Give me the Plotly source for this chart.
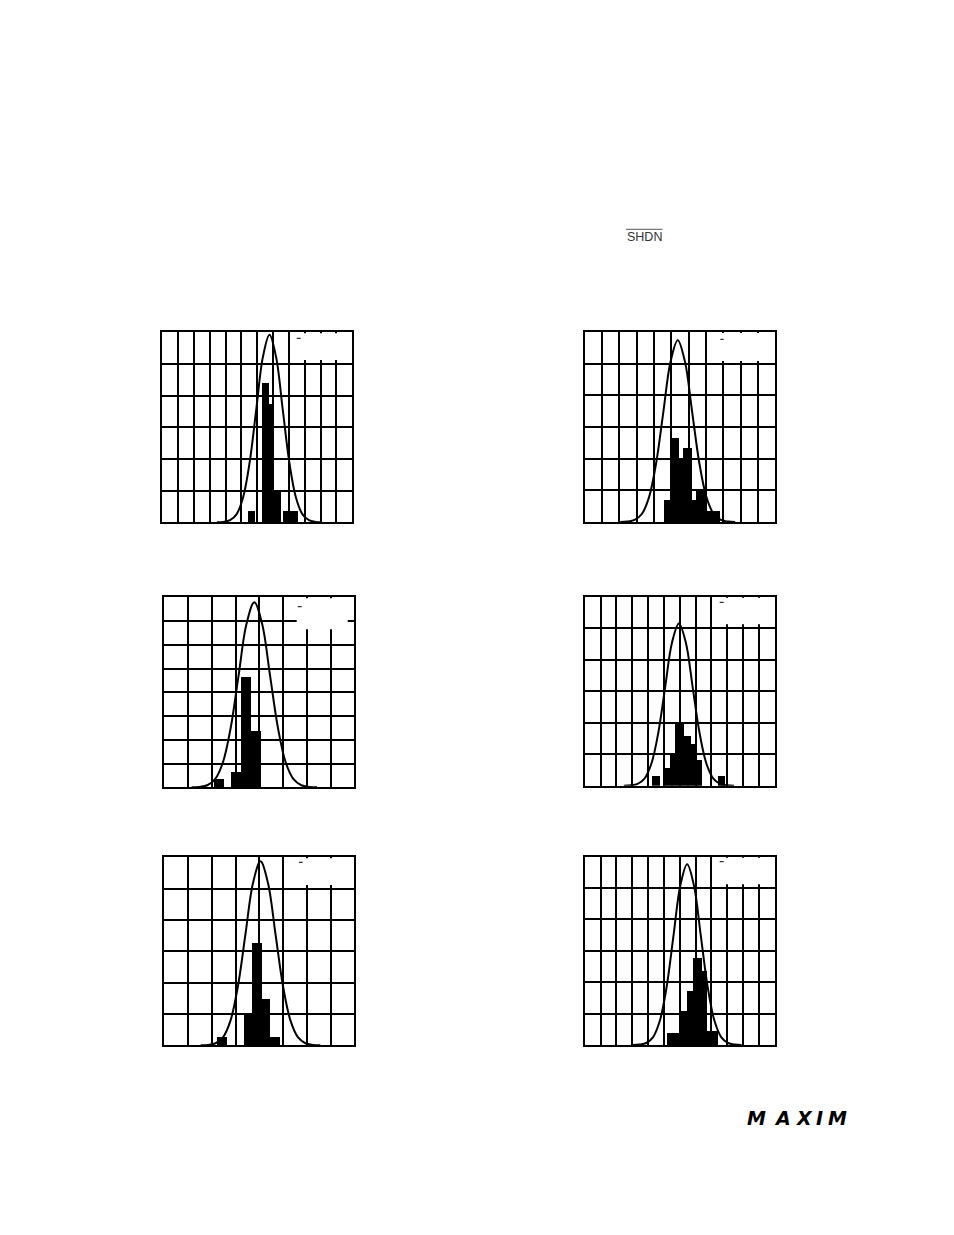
import plotly.graph_objects as go

W, H = 954, 1235
OFF = 8  # default page margin of the browser body

# ---------------- data (grid units on x, percent on y) ----------------
p1_bar_left = [5.46, 6.31, 6.73, 7.08, 7.67]
p1_bar_right = [5.88, 6.73, 7.08, 7.53, 8.56]
p1_bar_height = [3.6, 43.9, 37.4, 10.2, 3.6]
p1_curve_x = [3.45, 3.865, 4.28, 4.695, 5.11, 5.525, 5.94, 6.355, 6.77, 7.185, 7.60, 8.015, 8.43, 8.845, 9.26, 9.675, 10.09]
p1_curve_y = [0.02, 0.13, 0.66, 2.60, 8.01, 19.22, 35.90, 52.24, 59.2, 52.24, 35.90, 19.22, 8.01, 2.60, 0.66, 0.13, 0.02]

p2_bar_left = [4.56, 4.93, 5.41, 5.68, 6.18, 6.43, 6.92]
p2_bar_right = [4.93, 5.41, 5.68, 6.18, 6.43, 6.92, 7.78]
p2_bar_height = [7.0, 26.6, 19.7, 23.5, 6.8, 9.7, 3.5]
p2_curve_x = [2.05, 2.465, 2.88, 3.295, 3.71, 4.125, 4.54, 4.955, 5.37, 5.785, 6.20, 6.615, 7.03, 7.445, 7.86, 8.275, 8.69]
p2_curve_y = [0.02, 0.13, 0.64, 2.52, 7.77, 18.64, 34.81, 50.66, 57.4, 50.66, 34.81, 18.64, 7.77, 2.52, 0.64, 0.13, 0.02]

p3_bar_left = [2.09, 2.84, 3.25, 3.66]
p3_bar_right = [2.53, 3.25, 3.66, 4.08]
p3_bar_height = [3.5, 6.3, 46.2, 23.7]
p3_curve_x = [1.15, 1.48, 1.81, 2.14, 2.47, 2.80, 3.13, 3.46, 3.79, 4.12, 4.45, 4.78, 5.11, 5.44, 5.77, 6.10, 6.43]
p3_curve_y = [0.02, 0.17, 0.86, 3.42, 10.54, 25.29, 47.25, 68.75, 77.9, 68.75, 47.25, 25.29, 10.54, 3.42, 0.86, 0.17, 0.02]

p4_bar_left = [4.26, 5.00, 5.36, 5.69, 6.26, 6.68, 7.02, 8.37]
p4_bar_right = [4.75, 5.36, 5.69, 6.26, 6.68, 7.02, 7.42, 8.85]
p4_bar_height = [3.2, 5.7, 10.0, 19.8, 15.8, 13.2, 8.1, 3.2]
p4_curve_x = [2.47, 2.905, 3.34, 3.775, 4.21, 4.645, 5.08, 5.515, 5.95, 6.385, 6.82, 7.255, 7.69, 8.125, 8.56, 8.995, 9.43]
p4_curve_y = [0.02, 0.11, 0.57, 2.26, 6.97, 16.72, 31.23, 45.45, 51.5, 45.45, 31.23, 16.72, 6.97, 2.26, 0.57, 0.11, 0.02]

p5_bar_left = [2.22, 3.36, 3.70, 4.12, 4.48]
p5_bar_right = [2.66, 3.70, 4.12, 4.48, 4.89]
p5_bar_height = [2.4, 10.0, 32.4, 14.7, 2.7]
p5_curve_x = [1.53, 1.845, 2.16, 2.475, 2.79, 3.105, 3.42, 3.735, 4.05, 4.365, 4.68, 4.995, 5.31, 5.625, 5.94, 6.255, 6.57]
p5_curve_y = [0.02, 0.13, 0.65, 2.58, 7.94, 19.06, 35.60, 51.80, 58.7, 51.80, 35.60, 19.06, 7.94, 2.58, 0.65, 0.13, 0.02]

p6_bar_left = [5.17, 5.95, 6.47, 6.85, 7.36, 7.69]
p6_bar_right = [5.95, 6.47, 6.85, 7.36, 7.69, 8.41]
p6_bar_height = [4.0, 11.0, 17.3, 27.8, 23.6, 4.4]
p6_curve_x = [3.03, 3.46, 3.89, 4.32, 4.75, 5.18, 5.61, 6.04, 6.47, 6.90, 7.33, 7.76, 8.19, 8.62, 9.05, 9.48, 9.91]
p6_curve_y = [0.02, 0.13, 0.64, 2.53, 7.79, 18.70, 34.93, 50.83, 57.6, 50.83, 34.93, 18.70, 7.79, 2.53, 0.64, 0.13, 0.02]

grid_cols = [12, 11, 8, 12, 8, 12]
y_max = [60, 60, 80, 60, 60, 60]

logo_letters = ["M", "A", "X", "I", "M"]
# ---------------------------------------------------------------------

panels = [
    (p1_bar_left, p1_bar_right, p1_bar_height, p1_curve_x, p1_curve_y),
    (p2_bar_left, p2_bar_right, p2_bar_height, p2_curve_x, p2_curve_y),
    (p3_bar_left, p3_bar_right, p3_bar_height, p3_curve_x, p3_curve_y),
    (p4_bar_left, p4_bar_right, p4_bar_height, p4_curve_x, p4_curve_y),
    (p5_bar_left, p5_bar_right, p5_bar_height, p5_curve_x, p5_curve_y),
    (p6_bar_left, p6_bar_right, p6_bar_height, p6_curve_x, p6_curve_y),
]

# panel boxes in page pixels: left, right, top, bottom
boxes = [
    (162.3, 352.3, 332.3, 522.3),
    (584.7, 775.3, 332.0, 522.0),
    (164.3, 354.3, 597.3, 787.3),
    (584.7, 774.7, 596.7, 785.7),
    (164.3, 354.3, 857.3, 1045.3),
    (584.7, 774.7, 856.7, 1045.0),
]
# white legend patches: left, right, top, bottom (px)
patches = [
    (295.0, 340.0, 333.3, 360.0),
    (719.7, 762.0, 333.0, 361.0),
    (296.7, 347.7, 598.3, 629.3),
    (719.7, 762.0, 597.7, 624.3),
    (298.3, 340.0, 858.3, 885.0),
    (719.7, 762.0, 857.7, 884.3),
]
dashes = [
    (296.7, 300.7, 338.3),
    (720.3, 723.7, 339.3),
    (297.7, 301.7, 606.7),
    (719.7, 723.7, 602.3),
    (299.0, 302.7, 862.3),
    (719.7, 723.7, 861.7),
]


def px_x(v):
    return (v - OFF) / W


def px_y(v):
    return 1 - (v - OFF) / H


fig = go.Figure()
layout = dict(
    width=W, height=H, autosize=False,
    margin=dict(l=0, r=0, t=0, b=0),
    paper_bgcolor="white", plot_bgcolor="white",
    showlegend=False, bargap=0,
    shapes=[], annotations=[],
)

for i, (bl, br, bh, cx, cy) in enumerate(panels):
    n = i + 1
    xa = "x" if n == 1 else f"x{n}"
    ya = "y" if n == 1 else f"y{n}"
    centers = [(a + b) / 2 for a, b in zip(bl, br)]
    widths = [b - a for a, b in zip(bl, br)]
    fig.add_trace(go.Bar(x=centers, y=bh, width=widths, xaxis=xa, yaxis=ya,
                         marker=dict(color="black", line=dict(width=0))))
    fig.add_trace(go.Scatter(x=cx, y=cy, xaxis=xa, yaxis=ya, mode="lines",
                             line=dict(color="black", width=2, shape="spline", smoothing=1.0)))
    L, R, T, B = boxes[i]
    axis_common = dict(showline=True, mirror=True, linewidth=2, linecolor="black",
                       showgrid=True, gridcolor="black", gridwidth=1.6,
                       zeroline=False, showticklabels=False, ticks="", fixedrange=True)
    layout["xaxis" if n == 1 else f"xaxis{n}"] = dict(
        domain=[px_x(L), px_x(R)], range=[0, grid_cols[i]], dtick=1, tick0=0,
        anchor=ya, **axis_common)
    layout["yaxis" if n == 1 else f"yaxis{n}"] = dict(
        domain=[px_y(B), px_y(T)], range=[0, y_max[i]], dtick=10, tick0=0,
        anchor=xa, **axis_common)
    pl, pr, pt, pb = patches[i]
    layout["shapes"].append(dict(type="rect", xref="paper", yref="paper",
                                 x0=px_x(pl), x1=px_x(pr), y0=px_y(pb), y1=px_y(pt),
                                 fillcolor="white", line=dict(width=0), layer="above"))
    d0, d1, dy = dashes[i]
    layout["shapes"].append(dict(type="line", xref="paper", yref="paper",
                                 x0=px_x(d0), x1=px_x(d1), y0=px_y(dy), y1=px_y(dy),
                                 line=dict(color="black", width=1), layer="above"))

# SHDN label with overbar
layout["annotations"].append(dict(text="SHDN", xref="paper", yref="paper",
                                  x=px_x(625), y=px_y(236.5), xanchor="left", yanchor="middle",
                                  showarrow=False,
                                  font=dict(family="Liberation Sans, Arial", size=12.5, color="#333333")))
layout["shapes"].append(dict(type="line", xref="paper", yref="paper",
                             x0=px_x(626), x1=px_x(662.5), y0=px_y(229.3), y1=px_y(229.3),
                             line=dict(color="#555555", width=1)))

# MAXIM logo letters
logo_x = [756, 782, 804, 819, 837]
for ch, lx in zip(logo_letters, logo_x):
    layout["annotations"].append(dict(text=ch, xref="paper", yref="paper",
                                      x=px_x(lx), y=px_y(1118), xanchor="center", yanchor="middle",
                                      showarrow=False,
                                      font=dict(family="DejaVu Sans", size=19, color="black",
                                                weight="bold", style="italic")))

fig.update_layout(**layout)
fig.write_html("out.html")
